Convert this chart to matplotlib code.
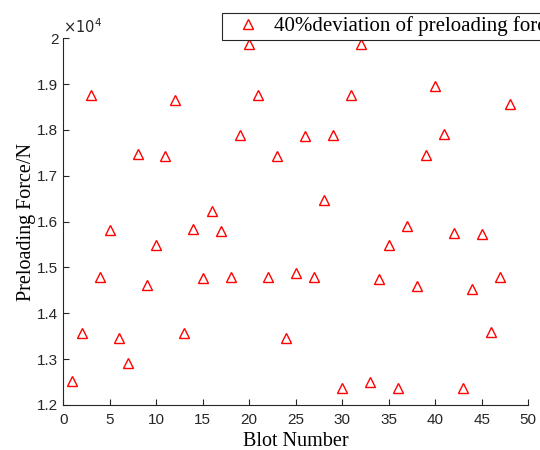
import matplotlib
matplotlib.use("Agg")
import matplotlib.pyplot as plt
from matplotlib.ticker import FuncFormatter, MultipleLocator

# bolt index and preloading force (N)
bolt_number = list(range(1, 49))
preload_force = [
    12520, 13570, 18770, 14800, 15810, 13460, 12910, 17470, 14610, 15480,
    17430, 18660, 13570, 15830, 14760, 16240, 15800, 14800, 17880, 19880,
    18770, 14800, 17430, 13460, 14880, 17870, 14800, 16470, 17880, 12380,
    18770, 19880, 12510, 14740, 15480, 12380, 15910, 14590, 17450, 18960,
    17920, 15760, 12380, 14540, 15720, 13590, 14800, 18560,
]
legend_label = "40%deviation of preloading force"

fig = plt.figure(figsize=(5.4, 4.5), dpi=100)
ax = fig.add_axes([0.117, 0.10, 0.861, 0.815])

ax.plot(bolt_number, preload_force, linestyle="none", marker="^",
        markersize=7, markerfacecolor="none", markeredgecolor="red",
        markeredgewidth=1.0, label=legend_label)

ax.set_xlim(0, 50)
ax.set_ylim(12000, 20000)
ax.xaxis.set_major_locator(MultipleLocator(5))
ax.yaxis.set_major_locator(MultipleLocator(1000))
ax.yaxis.set_major_formatter(FuncFormatter(lambda v, p: "%g" % round(v / 1e4, 2)))

for s in ["top", "right"]:
    ax.spines[s].set_visible(False)
for s in ["left", "bottom"]:
    ax.spines[s].set_color("#262626")
    ax.spines[s].set_linewidth(0.8)
ax.tick_params(direction="in", length=4, width=0.8, colors="#262626",
               labelsize=11)
ax.tick_params(axis="x", pad=6)
for lab in ax.get_xticklabels() + ax.get_yticklabels():
    lab.set_fontfamily("Liberation Sans")

ax.text(0.0, 1.005, r"$\times10^4$", transform=ax.transAxes, fontsize=10.5,
        color="#262626", ha="left", va="bottom", family="Liberation Sans")

ax.set_xlabel("Blot Number", fontsize=14.5, family="Liberation Serif", labelpad=3)
ax.set_ylabel("Preloading Force/N", fontsize=14.5, family="Liberation Serif", labelpad=1)

# legend box runs past the right edge of the figure, as in the original
leg = ax.legend(loc="lower left", bbox_to_anchor=(0.341, 0.995),
                prop={"family": "Liberation Serif", "size": 15},
                frameon=True, fancybox=False, edgecolor="#262626",
                borderpad=0.18, handletextpad=0.15, handlelength=2.2,
                borderaxespad=0)
leg.get_frame().set_linewidth(0.8)
leg.get_frame().set_alpha(1)

fig.savefig("out.png", dpi=100)
